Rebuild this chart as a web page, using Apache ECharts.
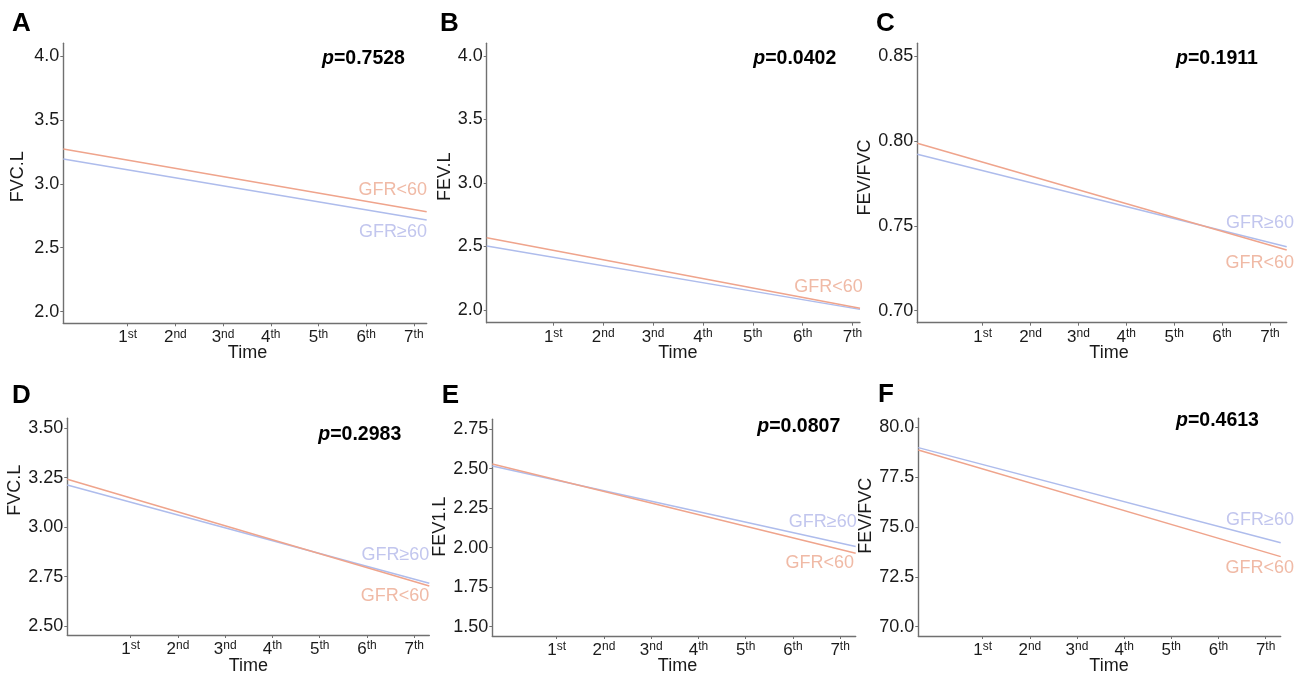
<!DOCTYPE html>
<html><head><meta charset="utf-8">
<script src="https://cdn.jsdelivr.net/npm/echarts@6/dist/echarts.min.js"></script>
<style>html,body{margin:0;padding:0;background:#fff}#c{width:1304px;height:674px}</style>
</head><body><div id="c"></div>
<script>
// ---------- data ----------
const panelIds = ['A', 'B', 'C', 'D', 'E', 'F'];
const yTitles = ['FVC.L', 'FEV.L', 'FEV/FVC', 'FVC.L', 'FEV1.L', 'FEV/FVC'];
const pValues = ['0.7528', '0.0402', '0.1911', '0.2983', '0.0807', '0.4613'];
const timeTickValues = [1, 2, 3, 4, 5, 6, 7];
const timeTickLabels = ['1st', '2nd', '3nd', '4th', '5th', '6th', '7th'];
// time span covered by the fitted lines (first, last)
const timeSpan = [[-0.35, 7.27], [-0.335, 7.15], [-0.365, 7.35], [-0.343, 7.32], [-0.364, 7.33], [-0.365, 7.32]];
// fitted values at first / last time of the span
const gfrLow = [[3.272, 2.782], [2.569, 2.013], [0.7986, 0.7357], [3.242, 2.702], [2.530, 1.965], [78.86, 73.51]];
const gfrHigh = [[3.194, 2.717], [2.504, 2.005], [0.7921, 0.7377], [3.213, 2.716], [2.518, 2.007], [78.98, 74.21]];
const yTickValues = [
  [2.0, 2.5, 3.0, 3.5, 4.0],
  [2.0, 2.5, 3.0, 3.5, 4.0],
  [0.70, 0.75, 0.80, 0.85],
  [2.50, 2.75, 3.00, 3.25, 3.50],
  [1.50, 1.75, 2.00, 2.25, 2.50, 2.75],
  [70.0, 72.5, 75.0, 77.5, 80.0]
];
const yDecimals = [1, 1, 2, 2, 2, 1];
const yExtent = [[1.909, 4.099], [1.9, 4.1], [0.6929, 0.8575], [2.4545, 3.55], [1.441, 2.813], [69.53, 80.45]];
const seriesNames = ['GFR<60', 'GFR≥60'];
// which end labels are shown per panel
const showLowLabel = [true, true, true, true, true, true];
const showHighLabel = [true, false, true, true, true, true];

// ---------- layout / style ----------
const FONT = '"Liberation Sans", Arial, sans-serif';
const colLowLine = '#EFA48C', colHighLine = '#AEBCEC';
const colLowText = '#F0BAA6', colHighText = '#C2C6EE';
const axisCol = '#707070';
const gridBox = [ // left, top, right, bottom
  [63.3, 43.3, 426.7, 323.3],
  [486.7, 43.3, 860, 322.7],
  [917.3, 43.3, 1286.7, 322.7],
  [67.3, 418.3, 429.3, 635],
  [492.3, 419.3, 855.7, 636],
  [918.3, 418.3, 1280.7, 636]
];
const yNameGap = [36, 29.5, 40, 40, 39.5, 41];
const yNamePadLeft = [13, 12.6, 11, 73, 2, 23];
const xNamePadLeft = [5, 9, 14, 0, 7, 19];
const xNameGap = [20.5, 21, 21, 22, 21.5, 21.5];
const letterPos = [[12, 24], [440, 24], [876, 24], [12, 395.5], [441.7, 395.5], [878, 394.5]];
const pPos = [[322, 59], [753.3, 59], [1176, 59], [318.3, 434.3], [757.3, 427], [1176, 421]];
const lowLabelPos = [[427, 190], [862.7, 287.3], [1294, 263.3], [429.3, 596], [854, 562.7], [1294, 568.3]];
const highLabelPos = [[427, 232.3], [0, 0], [1294, 223.3], [429.3, 555], [856.7, 521.7], [1294, 520]];

const chart = echarts.init(document.getElementById('c'), null, {renderer: 'canvas'});

const grids = [], xAxes = [], yAxes = [], series = [], graphics = [];
panelIds.forEach((id, i) => {
  const g = gridBox[i];
  grids.push({left: g[0], top: g[1], width: g[2] - g[0], height: g[3] - g[1], containLabel: false, outerBoundsMode: 'none'});
  xAxes.push({
    type: 'value', gridIndex: i, min: timeSpan[i][0], max: timeSpan[i][1],
    name: 'Time', nameLocation: 'middle', nameGap: xNameGap[i], nameMoveOverlap: false,
    nameTextStyle: {fontSize: 18, color: '#1a1a1a', fontFamily: FONT, padding: [0, 0, 0, xNamePadLeft[i]]},
    axisLine: {show: true, onZero: false, lineStyle: {color: axisCol, width: 1.4}},
    axisTick: {show: true, length: 3, customValues: timeTickValues, lineStyle: {color: axisCol, width: 1}},
    splitLine: {show: false},
    axisLabel: {
      customValues: timeTickValues, margin: 5,
      formatter: v => {
        const t = timeTickLabels[timeTickValues.indexOf(v)] || '';
        return '{n|' + t.slice(0, 1) + '}{s|' + t.slice(1) + '}';
      },
      rich: {
        n: {fontSize: 17, color: '#1a1a1a', fontFamily: FONT, verticalAlign: 'bottom', lineHeight: 18},
        s: {fontSize: 12, color: '#1a1a1a', fontFamily: FONT, verticalAlign: 'top', lineHeight: 12}
      }
    }
  });
  yAxes.push({
    type: 'value', gridIndex: i, min: yExtent[i][0], max: yExtent[i][1],
    name: yTitles[i], nameLocation: 'middle', nameGap: yNameGap[i], nameRotate: 90,
    nameTextStyle: {fontSize: 18, color: '#1a1a1a', fontFamily: FONT, padding: [0, 0, 0, yNamePadLeft[i]]},
    axisLine: {show: true, onZero: false, lineStyle: {color: axisCol, width: 1.4}},
    axisTick: {show: true, length: 3, customValues: yTickValues[i], lineStyle: {color: axisCol, width: 1}},
    splitLine: {show: false},
    axisLabel: {
      customValues: yTickValues[i], margin: 4, fontSize: 18, color: '#1a1a1a', fontFamily: FONT,
      formatter: v => Number(v).toFixed(yDecimals[i])
    }
  });
  series.push({
    name: seriesNames[0], type: 'line', xAxisIndex: i, yAxisIndex: i, symbol: 'none', showSymbol: false,
    silent: true, lineStyle: {color: colLowLine, width: 1.5}, z: 3,
    data: [[timeSpan[i][0], gfrLow[i][0]], [timeSpan[i][1], gfrLow[i][1]]]
  });
  series.push({
    name: seriesNames[1], type: 'line', xAxisIndex: i, yAxisIndex: i, symbol: 'none', showSymbol: false,
    silent: true, lineStyle: {color: colHighLine, width: 1.5}, z: 2,
    data: [[timeSpan[i][0], gfrHigh[i][0]], [timeSpan[i][1], gfrHigh[i][1]]]
  });
  graphics.push({
    type: 'text', x: letterPos[i][0], y: letterPos[i][1],
    style: {text: id, fontSize: 26, fontWeight: 'bold', fontFamily: FONT, fill: '#000',
      align: 'left', textAlign: 'left', verticalAlign: 'middle', textVerticalAlign: 'middle'}
  });
  graphics.push({
    type: 'text', x: pPos[i][0], y: pPos[i][1],
    style: {text: '{i|p}{b|=' + pValues[i] + '}', fill: '#000',
      align: 'left', textAlign: 'left', verticalAlign: 'middle', textVerticalAlign: 'middle',
      rich: {
        i: {fontSize: 19.5, fontWeight: 'bold', fontStyle: 'italic', fontFamily: FONT, fill: '#000'},
        b: {fontSize: 19.5, fontWeight: 'bold', fontFamily: FONT, fill: '#000'}
      }}
  });
  if (showLowLabel[i]) graphics.push({
    type: 'text', x: lowLabelPos[i][0], y: lowLabelPos[i][1],
    style: {text: seriesNames[0], fontSize: 18, fontFamily: FONT, fill: colLowText,
      align: 'right', textAlign: 'right', verticalAlign: 'middle', textVerticalAlign: 'middle'}
  });
  if (showHighLabel[i]) graphics.push({
    type: 'text', x: highLabelPos[i][0], y: highLabelPos[i][1],
    style: {text: seriesNames[1], fontSize: 18, fontFamily: FONT, fill: colHighText,
      align: 'right', textAlign: 'right', verticalAlign: 'middle', textVerticalAlign: 'middle'}
  });
});

chart.setOption({
  animation: false,
  backgroundColor: '#ffffff',
  grid: grids, xAxis: xAxes, yAxis: yAxes, series: series, graphic: graphics
});
</script></body></html>
